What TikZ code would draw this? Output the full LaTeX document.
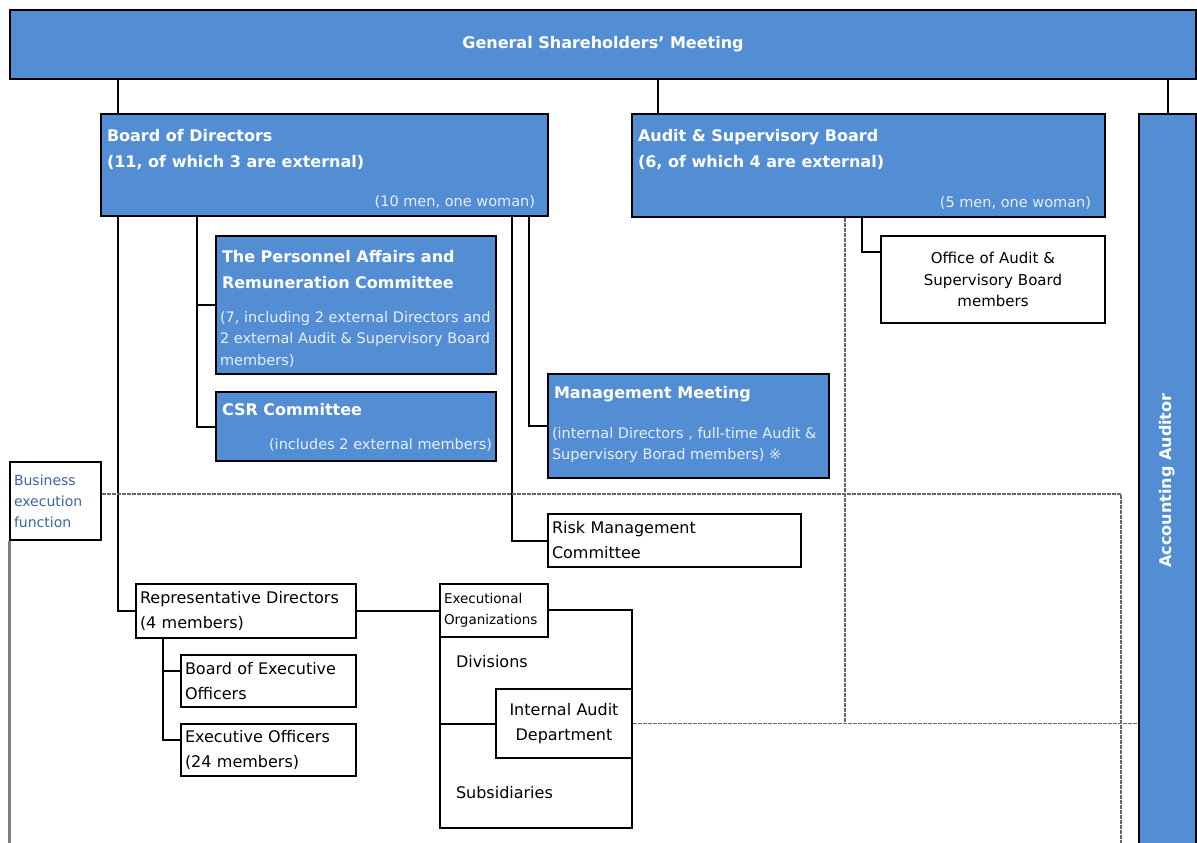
\documentclass[tikz,border=0pt]{standalone}
\usepackage{fontspec}
\setmainfont{DejaVu Sans}
\usetikzlibrary{positioning}
\definecolor{boxblue}{RGB}{83,142,213}
\definecolor{notewhite}{RGB}{232,238,248}
\definecolor{labelblue}{RGB}{60,100,165}
\begin{document}
\begin{tikzpicture}[
                x = 1pt,
                y = -1pt,
                line width = 2pt,
                font = \fontsize{16}{25}\selectfont
                ]

                \tikzstyle{bluebox}=[
                        draw = black,
                        fill = boxblue,
                        rectangle,
                        inner sep = 0pt,
                        anchor = north west
                ]
                \tikzstyle{whitebox}=[
                        draw = black,
                        fill = white,
                        rectangle,
                        inner sep = 4pt,
                        anchor = north west,
                        align = left
                ]
                \tikzstyle{head}=[
                        text = white,
                        font = \bfseries\fontsize{16}{26}\selectfont,
                        inner sep = 0pt,
                        align = left
                ]
                \tikzstyle{note}=[
                        text = notewhite,
                        font = \fontsize{14.5}{21.5}\selectfont,
                        inner sep = 0pt,
                        align = left
                ]
                \tikzstyle{dotline}=[
                        draw = black!60,
                        line width = 1.2pt,
                        dash pattern = on 4pt off 1pt
                ]

                \useasboundingbox (0,0) rectangle (1197,843);
                \clip (0,0) rectangle (1197,843);

                % top level
                \node[bluebox, head, minimum width=1186, minimum height=69] (gsm) at (9,9) {General Shareholders’ Meeting};
                \node[bluebox, minimum width=447, minimum height=102] (bod) at (100,113) {};
                \node[bluebox, minimum width=473, minimum height=103] (asb) at (631,113) {};
                \node[bluebox, minimum width=57, minimum height=733] (aa) at (1138,113) {};
                \node[head, rotate=90] (aatext) at (aa.center) {Accounting Auditor};

                \node[head, anchor=north west] (bodtext) [below right=15pt and 6pt of bod.north west] {Board of Directors\\(11, of which 3 are external)};
                \node[note, anchor=south east] (bodnote) [above left=8pt and 13pt of bod.south east] {(10 men, one woman)};
                \node[head, anchor=north west] (asbtext) [below right=15pt and 6pt of asb.north west] {Audit \& Supervisory Board\\(6, of which 4 are external)};
                \node[note, anchor=south east] (asbnote) [above left=8pt and 14pt of asb.south east] {(5 men, one woman)};

                % committees
                \node[bluebox, minimum width=280, minimum height=138] (pac) at (215,235) {};
                \node[head] (pactext) [below right=14pt and 6pt of pac.north west] {The Personnel Affairs and\\Remuneration Committee};
                \node[note] (pacnote) [below right=75pt and 4pt of pac.north west] {(7, including 2 external Directors and\\2 external Audit \& Supervisory Board\\members)};
                \node[bluebox, minimum width=280, minimum height=69] (csr) at (215,391) {};
                \node[head] (csrtext) [below right=11pt and 6pt of csr.north west] {CSR Committee};
                \node[note] (csrnote) [above left=10pt and 4pt of csr.south east] {(includes 2 external members)};
                \node[bluebox, minimum width=281, minimum height=104] (mm) at (547,373) {};
                \node[head] (mmtext) [below right=12pt and 6pt of mm.north west] {Management Meeting};
                \node[note] (mmnote) [below right=53pt and 4pt of mm.north west] {(internal Directors , full-time Audit \&\\Supervisory Borad members) ※};

                \node[whitebox, align=center, text width=216, minimum height=87, font=\fontsize{15}{21.5}\selectfont] (off) at (880,235) {Office of Audit \&\\Supervisory Board\\members};

                % business execution
                \node[whitebox, text width=83, minimum height=78, text=labelblue, font=\fontsize{14}{21}\selectfont] (be) at (9,461) {Business\\execution\\function};
                \node[whitebox, text width=245, minimum height=53] (risk) at (547,513) {Risk Management\\Committee};
                \node[whitebox, text width=212, minimum height=54] (rep) at (135,583) {Representative Directors\\(4 members)};
                \node[whitebox, text width=167, minimum height=52] (beo) at (180,654) {Board of Executive\\Officers};
                \node[whitebox, text width=167, minimum height=52] (eo) at (180,723) {Executive Officers\\(24 members)};

                \node[whitebox, minimum width=192, minimum height=218] (orgs) at (439,609) {};
                \node[whitebox, text width=100, minimum height=53, font=\fontsize{13.5}{21}\selectfont] (eol) at (439,583) {Executional\\Organizations};
                \node[inner sep=0pt, anchor=west] (div) at (455,662) {Divisions};
                \node[inner sep=0pt, anchor=west] (sub) at (455,793) {Subsidiaries};
                \node[whitebox, align=center, text width=128, minimum height=69] (iad) at (495,688) {Internal Audit\\Department};

                % branch positions
                \coordinate (xbod) at (118,0);
                \coordinate (xasb) at (658,0);
                \coordinate (xcom) at (197,0);
                \coordinate (xrisk) at (512,0);
                \coordinate (xmm) at (529,0);
                \coordinate (xoff) at (862,0);
                \coordinate (xexe) at (163,0);
                \coordinate (xaud) at (845,0);
                \coordinate (xend) at (1121,0);
                \coordinate (ydiv) at (0,494);
                \coordinate (ybot) at (0,846);

                \draw (gsm.south -| xbod) -- (bod.north -| xbod);
                \draw (gsm.south -| xasb) -- (asb.north -| xasb);
                \draw (gsm.south -| aa.north) -- (aa.north);
                \draw (bod.south -| xbod) |- (rep.west);
                \draw (bod.south -| xcom) |- (pac.west);
                \draw (bod.south -| xcom) |- (csr.west);
                \draw (bod.south -| xmm) |- (mm.west);
                \draw (bod.south -| xrisk) |- (risk.west);
                \draw (asb.south -| xoff) |- ([yshift=-17pt]off.north west);
                \draw (rep.east) -- (rep.east -| eol.west);
                \draw (rep.south -| xexe) |- ([yshift=-17pt]beo.north west);
                \draw (rep.south -| xexe) |- ([yshift=-17pt]eo.north west);
                \draw (orgs.west |- iad.west) -- (iad.west);

                \draw[dotline] (be.east |- ydiv) -- (xend |- ydiv) -- (xend |- ybot);
                \draw[dotline] (asb.south -| xaud) -- (xaud |- iad.east);
                \draw[dotline] (iad.east) -- (aa.west |- iad.east);
                \draw[gray, line width=3pt] (be.south west) -- (be.south west |- ybot);
\end{tikzpicture}
\end{document}
